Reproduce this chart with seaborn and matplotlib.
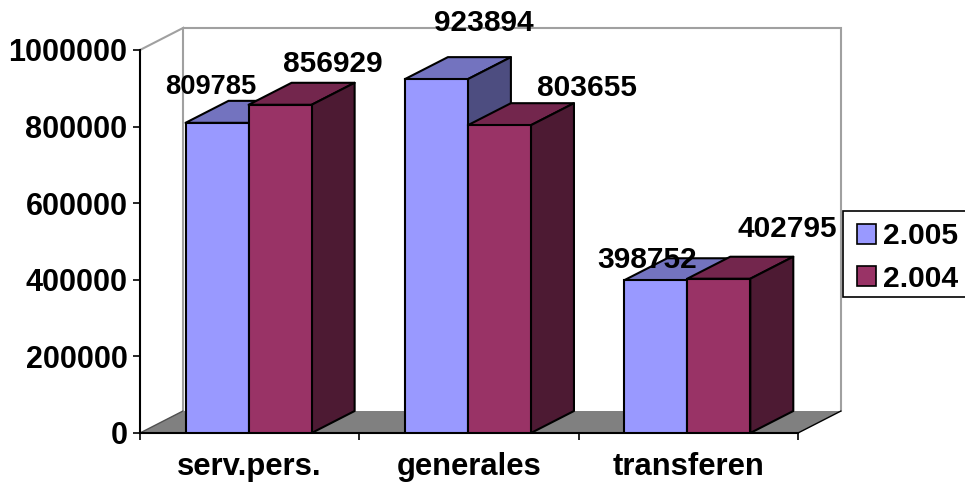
import matplotlib
matplotlib.use("Agg")
import matplotlib.pyplot as plt
from matplotlib.patches import Polygon, Rectangle
import pandas as pd
import seaborn as sns

categories = ["serv.pers.", "generales", "transferen"]
series_names = ["2.005", "2.004"]
values_2005 = [809785, 923894, 398752]
values_2004 = [856929, 803655, 402795]
y_ticks = [0, 200000, 400000, 600000, 800000, 1000000]

W, H = 965, 483
sns.set_theme(style="white")
plt.rcParams["font.family"] = ["Liberation Sans", "DejaVu Sans"]
plt.rcParams["font.weight"] = "bold"

L, R, T, B = 140, 798, 50, 433
fig = plt.figure(figsize=(W / 100, H / 100), dpi=100, facecolor="white")
ax = fig.add_axes([L / W, 1 - B / H, (R - L) / W, (B - T) / H])
ax.patch.set_visible(False)

df = pd.DataFrame({
    "cat": categories * 2,
    "year": [series_names[0]] * 3 + [series_names[1]] * 3,
    "val": values_2005 + values_2004,
})
front = ["#9999FF", "#993366"]
top = ["#7373BF", "#73264D"]
side = ["#4D4D80", "#4D1A33"]
sns.barplot(data=df, x="cat", y="val", hue="year", hue_order=series_names,
            palette=front, width=0.575, gap=0, saturation=1, errorbar=None,
            edgecolor="black", linewidth=1.5, ax=ax, zorder=3)
ax.set_xlim(-0.5, 2.5)
ax.set_ylim(0, 1000000)

DX = 43 / ((R - L) / 3)
DY = 22 / (B - T) * 1000000
x0, x1 = ax.get_xlim()
LEFT_SHIFT = -0.005

# floor and walls
ax.add_patch(Polygon([(x0, 0), (x0 + DX, DY), (x1 + DX, DY), (x1, 0)], closed=True,
                     facecolor="#808080", edgecolor="none", clip_on=False, zorder=1))
wall = "#A0A0A0"
ax.plot([x0, x0 + DX, x0 + DX], [1000000, 1000000 + DY, DY], color=wall, lw=1.5,
        clip_on=False, zorder=1.5, solid_joinstyle="miter")
ax.plot([x0 + DX, x1 + DX, x1 + DX], [1000000 + DY, 1000000 + DY, DY], color=wall, lw=1.5,
        clip_on=False, zorder=1.5, solid_joinstyle="miter")
ax.plot([x1, x1 + DX], [0, DY], color="black", lw=1, clip_on=False, zorder=1.6)
ax.plot([x0, x0 + DX], [0, DY], color="#505050", lw=1, clip_on=False, zorder=1.6)

# 3D sides of each bar
for i, c in enumerate(ax.containers):
    for p in c:
        p.set_zorder(3 + 2 * i + 1)
        p.set_x(p.get_x() + LEFT_SHIFT)
        xa, w, h = p.get_x(), p.get_width(), p.get_height()
        xb = xa + w
        ax.add_patch(Polygon([(xa, h), (xa + DX, h + DY), (xb + DX, h + DY), (xb, h)], closed=True,
                             facecolor=top[i], edgecolor="black", lw=1.5, clip_on=False,
                             zorder=3 + 2 * i, joinstyle="round"))
        ax.add_patch(Polygon([(xb, 0), (xb + DX, DY), (xb + DX, h + DY), (xb, h)], closed=True,
                             facecolor=side[i], edgecolor="black", lw=1.5, clip_on=False,
                             zorder=3 + 2 * i, joinstyle="round"))

# value labels (pixel offset from the bar's top centre, and size)
offsets = [[(-6, 36), (47, 56), (-9, 20)], [(53, 41), (88, 37), (69, 50)]]
label_sizes = [[19.6, 21.5, 21.5], [21.5, 21.5, 21.5]]
for i, c in enumerate(ax.containers):
    for p, (ox, oy), fs in zip(c, offsets[i], label_sizes[i]):
        ax.annotate(f"{int(p.get_height())}",
                    (p.get_x() + p.get_width() / 2, p.get_height()),
                    xytext=(ox * 0.72, oy * 0.72), textcoords="offset points",
                    ha="center", va="center", fontsize=fs, fontweight="bold",
                    color="black", zorder=10, annotation_clip=False)

# axes
for s in ["top", "right"]:
    ax.spines[s].set_visible(False)
for s in ["left", "bottom"]:
    ax.spines[s].set_color("black")
    ax.spines[s].set_linewidth(1.5)
    ax.spines[s].set_zorder(2)
ax.set_xlabel("")
ax.set_ylabel("")
ax.set_yticks(y_ticks)
ax.set_yticklabels([str(v) for v in y_ticks], fontsize=22, fontweight="bold", color="black")
ax.set_xticks([-0.5, 0.5, 1.5, 2.5])
ax.set_xticklabels([])
ax.set_xticks([0, 1, 2], minor=True)
ax.set_xticklabels(categories, minor=True, fontsize=22.3, fontweight="bold", color="black")
ax.tick_params(axis="both", which="major", length=5, width=1.2, color="black", left=True, bottom=True, pad=4)
ax.tick_params(axis="x", which="minor", length=0, pad=13.5)

# legend box
ax.add_patch(Rectangle((843 / W, 1 - 297 / H), 130 / W, 86 / H, transform=fig.transFigure,
                       facecolor="white", edgecolor="black", lw=1.2, zorder=19, clip_on=False))
leg = ax.legend(loc="upper left", bbox_to_anchor=(843 / W, 1 - 215 / H), bbox_transform=fig.transFigure,
                frameon=False, fontsize=21.6, title=None, borderaxespad=0, borderpad=0.25,
                labelspacing=0.47, handlelength=0.85, handleheight=0.62, handletextpad=0.23)
leg.set_zorder(20)
for h in leg.get_patches():
    h.set_edgecolor("black")
    h.set_linewidth(1.2)
    h.set_x(h.get_x() + 5)
    h.set_width(h.get_width() - 5)
for t in leg.get_texts():
    t.set_color("black")

fig.savefig("out.png", dpi=100)
